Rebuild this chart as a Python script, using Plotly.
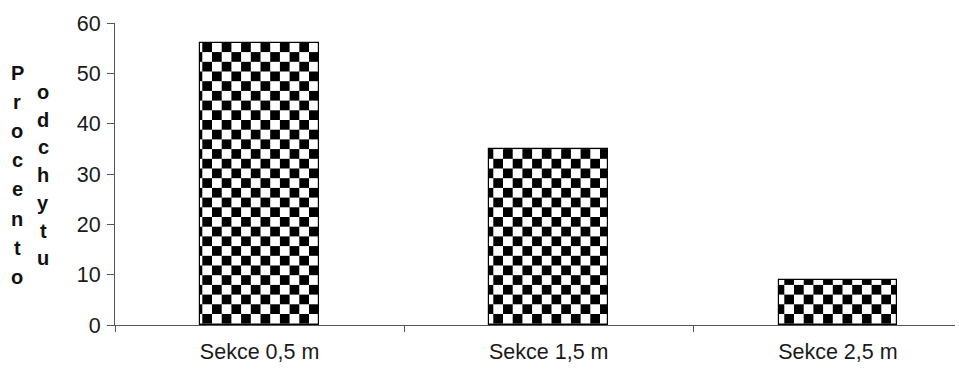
import plotly.graph_objects as go

categories = ["Sekce 0,5 m", "Sekce 1,5 m", "Sekce 2,5 m"]
values = [56, 35, 9]
y_ticks = [0, 10, 20, 30, 40, 50, 60]
title_col1 = "Procento"
title_col2 = "odchytu"

W, H = 959, 385
ML, MR, MT, MB = 115, 4, 23, 60

fig = go.Figure()
fig.add_trace(go.Bar(
    x=categories, y=values, width=0.41,
    marker=dict(color="white", line=dict(color="black", width=1.2),
                pattern=dict(path="M9.7,0H19.4V9.7H9.7Z M0,9.7H9.7V19.4H0Z",
                             fgcolor="black", bgcolor="white",
                             size=19.4, solidity=1, fillmode="replace")),
))

font_main = dict(family="Liberation Sans, Arial, sans-serif", size=21.5, color="#1a1a1a")

fig.update_layout(
    width=W, height=H,
    margin=dict(l=ML, r=MR, t=MT, b=MB, autoexpand=False),
    plot_bgcolor="white", paper_bgcolor="white",
    showlegend=False,
    font=font_main,
    bargap=0,
)
fig.update_xaxes(
    type="category", range=[-0.5, 2.405], showline=True, linecolor="#555555", linewidth=1,
    ticks="outside", tickson="boundaries", ticklen=6, tickcolor="#555555",
    showgrid=False, tickfont=font_main, automargin=False, ticklabelstandoff=7,
)
fig.update_yaxes(
    range=[0, 60], tickvals=y_ticks, showline=True, linecolor="#555555", linewidth=1,
    ticks="outside", ticklen=7, tickcolor="#555555", showgrid=False, zeroline=False,
    tickfont=font_main, automargin=False, ticklabelstandoff=2,
)

title_font = dict(family="Liberation Sans, Arial, sans-serif", size=20, color="#111111")
for col, x_px, y_top, step in [(title_col1, 17, 73, 29.1), (title_col2, 43, 92, 27.7)]:
    for i, ch in enumerate(col):
        fig.add_annotation(
            text="<b>%s</b>" % ch, xref="paper", yref="paper",
            x=(x_px - ML) / (W - ML - MR),
            y=1 - ((y_top + i * step) - MT) / (H - MT - MB),
            showarrow=False, xanchor="center", yanchor="middle", font=title_font,
        )

fig.write_html("out.html", config={"displayModeBar": False},
               post_script="document.body.style.margin='0px';")
